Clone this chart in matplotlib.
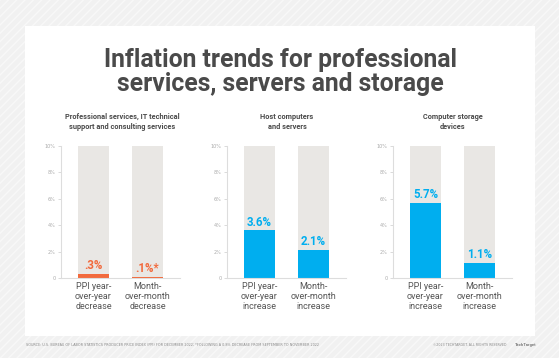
import matplotlib.pyplot as plt
from matplotlib.patches import Rectangle

# data
panel_titles = ["Professional services, IT technical\nsupport and consulting services",
                "Host computers\nand servers",
                "Computer storage\ndevices"]
values = [[0.3, 0.1], [3.6, 2.1], [5.7, 1.1]]
value_labels = [[".3%", ".1%*"], ["3.6%", "2.1%"], ["5.7%", "1.1%"]]
directions = ["decrease", "increase", "increase"]
categories = ["PPI year-\nover-year\n", "Month-\nover-month\n"]
yticks = [0, 2, 4, 6, 8, 10]
ytick_labels = ["0", "2%", "4%", "6%", "8%", "10%"]

orange = "#f26a3d"
blue = "#00aeef"
bg_bar = "#e9e7e4"
dark = "#4a4a4a"

W, H = 559, 358
fig = plt.figure(figsize=(W / 100, H / 100), dpi=100)
fig.patch.set_facecolor("#f1f1f1")

# hatched outer background + white panel
fig.patches.append(Rectangle((0, 0), 1, 1, transform=fig.transFigure,
                             facecolor="#f1f1f1", edgecolor="#f8f8f8",
                             hatch="////", linewidth=0, zorder=-2))
fig.patches.append(Rectangle((25 / W, 1 - 336 / H), 510 / W, 310 / H,
                             transform=fig.transFigure, facecolor="white",
                             edgecolor="none", zorder=-1))

fig.text(280 / W, 1 - 72 / H, "Inflation trends for professional\nservices, servers and storage",
         ha="center", va="center", fontsize=17.8, fontweight="bold", color=dark,
         family="Roboto", linespacing=1.05)

axes_left = [61, 227, 393]
bottom = 1 - 278 / H
height = (278 - 146) / H
sub_x = [122, 287, 453]

for i in range(3):
    ax = fig.add_axes([axes_left[i] / W, bottom, 119 / W, height])
    ax.set_facecolor("none")
    col = orange if i == 0 else blue
    xs = [0, 1]
    ax.bar(xs, [10, 10], width=0.58, color=bg_bar, zorder=1)
    ax.bar(xs, values[i], width=0.58, color=col, zorder=2)
    for x, v, lab in zip(xs, values[i], value_labels[i]):
        ax.text(x, v + 0.15, lab, ha="center", va="bottom", fontsize=8.3,
                fontweight="bold", color=col, family="Roboto")
    ax.set_xlim(-0.6, 1.6)
    ax.set_ylim(0, 10)
    ax.set_yticks(yticks)
    ax.set_yticklabels(ytick_labels)
    ax.tick_params(axis="y", length=2, width=0.5, color="#cccccc",
                   labelsize=3.5, labelcolor="#aaaaaa", pad=2)
    ax.set_xticks(xs)
    ax.set_xticklabels([c + directions[i] for c in categories],
                       fontsize=6.5, color="#555555", family="Roboto",
                       linespacing=1.15)
    ax.tick_params(axis="x", length=0, pad=3)
    for s in ["top", "right"]:
        ax.spines[s].set_visible(False)
    ax.spines["left"].set_color("#dddddd")
    ax.spines["bottom"].set_color("#dddddd")
    ax.spines["left"].set_linewidth(0.8)
    ax.spines["bottom"].set_linewidth(0.8)
    fig.text(sub_x[i] / W, 1 - 122 / H, panel_titles[i], ha="center", va="center",
             fontsize=5.3, fontweight="bold", color=dark, family="Roboto",
             linespacing=1.25)

fig.text(26 / W, 1 - 345 / H,
         "SOURCE: U.S. BUREAU OF LABOR STATISTICS PRODUCER PRICE INDEX (PPI) FOR DECEMBER 2022; "
         "*FOLLOWING A 0.8% DECREASE FROM SEPTEMBER TO NOVEMBER 2022",
         ha="left", va="center", fontsize=2.4, color="#888888")
fig.text(507 / W, 1 - 345 / H, "\u00a92023 TECHTARGET. ALL RIGHTS RESERVED",
         ha="right", va="center", fontsize=2.3, color="#888888")
fig.text(536 / W, 1 - 345 / H, "TechTarget", ha="right", va="center",
         fontsize=3, color="#777777", fontweight="bold", family="Roboto")

fig.savefig("out.png", dpi=100, facecolor=fig.get_facecolor())
